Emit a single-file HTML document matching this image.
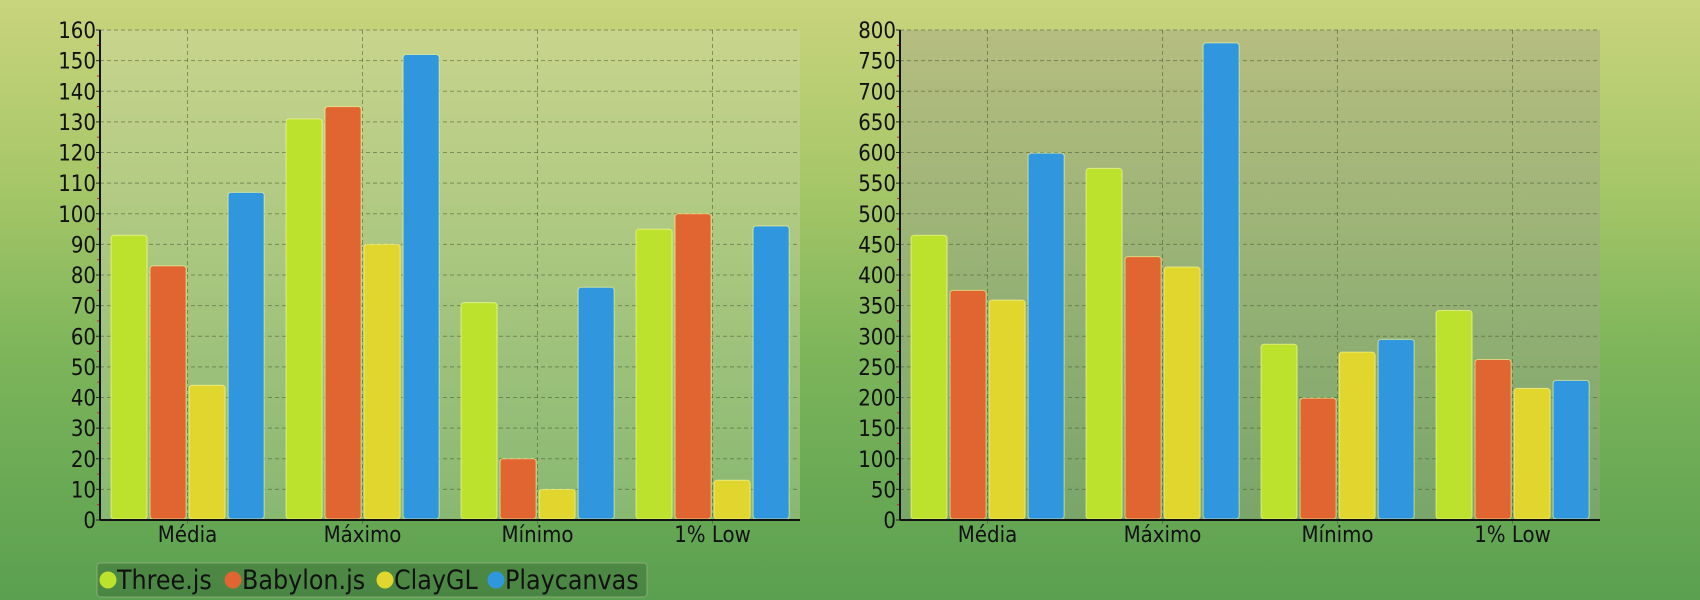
<!DOCTYPE html>
<html><head><meta charset="utf-8">
<style>
html,body{margin:0;padding:0;}
body{width:1700px;height:600px;overflow:hidden;background:linear-gradient(#c9d47c 0%,#a7c768 30%,#7cb45a 60%,#5aa050 100%);font-family:"DejaVu Sans Condensed","DejaVu Sans","Liberation Sans",sans-serif;}
svg{display:block;}
svg text{font-family:"DejaVu Sans Condensed","DejaVu Sans","Liberation Sans",sans-serif;font-stretch:condensed;}
</style></head>
<body>
<svg id="chart" width="1700" height="600" xmlns="http://www.w3.org/2000/svg">
<defs>
<linearGradient id="lp" x1="0" y1="0" x2="0" y2="1"><stop offset="0" stop-color="#c8d48c"/><stop offset="1" stop-color="#88b872"/></linearGradient>
<linearGradient id="rp" x1="0" y1="0" x2="0" y2="1"><stop offset="0" stop-color="#b6bd80"/><stop offset="1" stop-color="#79a66a"/></linearGradient>
</defs>
</svg>
<script>
const categories = ["Média","Máximo","Mínimo","1% Low"];
const seriesNames = ["Three.js","Babylon.js","ClayGL","Playcanvas"];
const seriesColors = ["#bde22e","#e06531","#e0d62e","#3097de"];
const fpsThree = [93,131,71,95];
const fpsBabylon = [83,135,20,100];
const fpsClay = [44,90,10,13];
const fpsPlay = [107,152,76,96];
const msThree = [465,574,287,342];
const msBabylon = [375,430,199,262];
const msClay = [359,413,274,215];
const msPlay = [599,779,295,228];
const leftTicks = [0,10,20,30,40,50,60,70,80,90,100,110,120,130,140,150,160];
const rightTicks = [0,50,100,150,200,250,300,350,400,450,500,550,600,650,700,750,800];

const NS="http://www.w3.org/2000/svg";
const svg=document.getElementById('chart');
function mk(tag,attrs,parent){const e=document.createElementNS(NS,tag);for(const k in attrs)e.setAttribute(k,attrs[k]);(parent||svg).appendChild(e);return e;}

function drawChart(prefix,x0,x1,y0,y1,maxV,ticks,series,fill){
  const g=mk('g',{});
  
  
  const yS=v=>y1-(v/maxV)*(y1-y0);
  const band=(x1-x0)/categories.length;
  const bg=mk('rect',{x:x0,y:y0,width:x1-x0,height:y1-y0,fill:fill},g);
  
  
  ticks.forEach(t=>{
    const y=yS(t);
    if(t>0){const l=mk('line',{x1:x0,x2:x1,y1:y,y2:y,stroke:'rgba(70,90,50,0.55)','stroke-dasharray':'4,3','stroke-width':1},g);
      
      }
    const tx=mk('text',{x:x0-4,y:y+8,'text-anchor':'end','font-size':22,fill:'#111'},g);
    tx.textContent=t;
    
    
    const tk=mk('line',{x1:x0-4,x2:x0,y1:y,y2:y,stroke:'#222'},g);
    
    
    if(t<maxV){const my=yS(t+(ticks[1]-ticks[0])/2);
      const mt=mk('line',{x1:x0-3,x2:x0,y1:my,y2:my,stroke:'#d02020'},g);
      
      }
  });
  categories.forEach((c,i)=>{
    const cx=x0+band*(i+0.5);
    const vl=mk('line',{x1:cx,x2:cx,y1:y0,y2:y1+6,stroke:'rgba(70,90,50,0.55)','stroke-dasharray':'4,3'},g);
    
    
    const lt=mk('text',{x:cx,y:y1+22,'text-anchor':'middle','font-size':22,fill:'#111'},g);
    lt.textContent=c;
    
    
    const step=band*0.223, bw=band*0.206, start=x0+band*i+band*0.063;
    series.forEach((arr,s)=>{
      const v=arr[i], top=yS(v);
      const r=mk('rect',{x:start+s*step,y:top,width:bw,height:Math.max(0,y1-1-top),rx:3,fill:seriesColors[s],stroke:'rgba(255,255,160,0.6)','stroke-width':1},g);
      
      
    });
  });
  const ya=mk('line',{x1:x0,x2:x0,y1:y0,y2:y1,stroke:'#111','stroke-width':2},g);
  
  
  const xa=mk('line',{x1:x0,x2:x1,y1:y1,y2:y1,stroke:'#111','stroke-width':2},g);
  
  
}
drawChart('fps',100,800,30,520,160,leftTicks,[fpsThree,fpsBabylon,fpsClay,fpsPlay],'url(#lp)');
drawChart('ms',900,1600,30,520,800,rightTicks,[msThree,msBabylon,msClay,msPlay],'url(#rp)');

// legend
const lg=mk('g',{});


const lb=mk('rect',{x:97,y:563,width:550,height:34,rx:3,fill:'rgba(40,80,40,0.32)',stroke:'rgba(140,175,120,0.9)'},lg);


const legX=[108,233,385,496];
seriesNames.forEach((n,s)=>{
  const e=mk('g',{},lg);
  
  
  mk('circle',{cx:legX[s],cy:580,r:8.5,fill:seriesColors[s]},e);
  const t=mk('text',{x:legX[s]+9,y:589,'font-size':26.5,fill:'#111'},e);
  t.textContent=n;
});
</script>
</body></html>
